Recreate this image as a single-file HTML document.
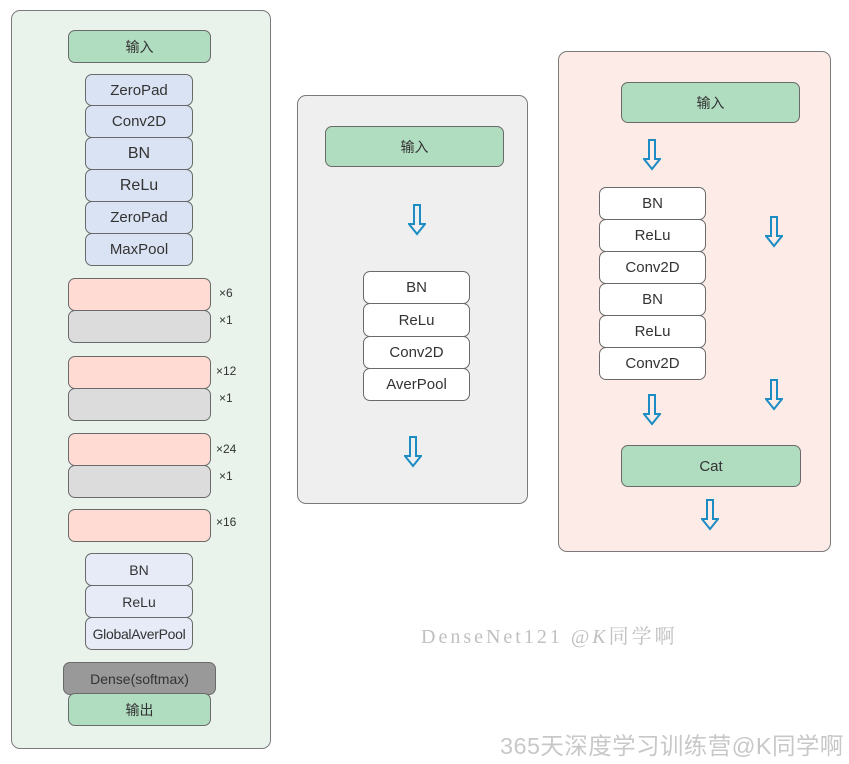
<!DOCTYPE html>
<html><head><meta charset="utf-8"><style>
body{margin:0;width:849px;height:764px;background:#fff;position:relative;overflow:hidden;font-family:"Liberation Sans","Noto Sans CJK SC",sans-serif;color:#333}
.p{position:absolute;border:1.5px solid #7a7a7a;border-radius:9px;box-sizing:border-box}
.b{position:absolute;box-sizing:border-box;border:1.5px solid #6a6a6a;border-radius:7px;display:flex;align-items:center;justify-content:center;font-size:15px;color:#333}
.g{background:#b0dcc0}.bl{background:#dae3f3}.bl2{background:#e6ebf7}.pk{background:#ffdbd3}.gr{background:#dcdcdc}.w{background:#fff}
.t{position:absolute;font-size:12px;color:#333}
svg.a{position:absolute;width:18px;height:32px}
</style></head><body>
<div class="p" style="left:11px;top:10px;width:260px;height:739px;background:#e9f3ec"></div>
<div class="b g" style="left:68px;top:30px;width:143px;height:33px;font-size:14px">输入</div>
<div class="b bl" style="left:85px;top:74px;width:108px;height:32px">ZeroPad</div>
<div class="b bl" style="left:85px;top:105px;width:108px;height:33px">Conv2D</div>
<div class="b bl" style="left:85px;top:137px;width:108px;height:33px;font-size:16px">BN</div>
<div class="b bl" style="left:85px;top:169px;width:108px;height:33px;font-size:16px">ReLu</div>
<div class="b bl" style="left:85px;top:201px;width:108px;height:33px">ZeroPad</div>
<div class="b bl" style="left:85px;top:233px;width:108px;height:33px">MaxPool</div>
<div class="b pk" style="left:68px;top:278px;width:143px;height:33px"></div>
<div class="b gr" style="left:68px;top:310px;width:143px;height:33px"></div>
<div class="t" style="left:219px;top:286px">×6</div>
<div class="t" style="left:219px;top:313px">×1</div>
<div class="b pk" style="left:68px;top:356px;width:143px;height:33px"></div>
<div class="b gr" style="left:68px;top:388px;width:143px;height:33px"></div>
<div class="t" style="left:216px;top:364px">×12</div>
<div class="t" style="left:219px;top:391px">×1</div>
<div class="b pk" style="left:68px;top:433px;width:143px;height:33px"></div>
<div class="b gr" style="left:68px;top:465px;width:143px;height:33px"></div>
<div class="t" style="left:216px;top:442px">×24</div>
<div class="t" style="left:219px;top:469px">×1</div>
<div class="b pk" style="left:68px;top:509px;width:143px;height:33px"></div>
<div class="t" style="left:216px;top:515px">×16</div>
<div class="b bl2" style="left:85px;top:553px;width:108px;height:33px;font-size:14px">BN</div>
<div class="b bl2" style="left:85px;top:585px;width:108px;height:33px;font-size:14px">ReLu</div>
<div class="b bl2" style="left:85px;top:617px;width:108px;height:33px;font-size:14px;letter-spacing:-0.3px">GlobalAverPool</div>
<div class="b" style="left:63px;top:662px;width:153px;height:33px;background:#999;font-size:14px">Dense(softmax)</div>
<div class="b g" style="left:68px;top:693px;width:143px;height:33px;font-size:14px">输出</div>

<div class="p" style="left:297px;top:95px;width:231px;height:409px;background:#efefef"></div>
<div class="b g" style="left:325px;top:126px;width:179px;height:41px;font-size:14px">输入</div>
<div class="b w" style="left:363px;top:271px;width:107px;height:33px">BN</div>
<div class="b w" style="left:363px;top:303px;width:107px;height:34px">ReLu</div>
<div class="b w" style="left:363px;top:336px;width:107px;height:33px">Conv2D</div>
<div class="b w" style="left:363px;top:368px;width:107px;height:33px">AverPool</div>

<div class="p" style="left:558px;top:51px;width:273px;height:501px;background:#fdebe8"></div>
<div class="b g" style="left:621px;top:82px;width:179px;height:41px;font-size:14px">输入</div>
<div class="b w" style="left:599px;top:187px;width:107px;height:33px">BN</div>
<div class="b w" style="left:599px;top:219px;width:107px;height:33px">ReLu</div>
<div class="b w" style="left:599px;top:251px;width:107px;height:33px">Conv2D</div>
<div class="b w" style="left:599px;top:283px;width:107px;height:33px">BN</div>
<div class="b w" style="left:599px;top:315px;width:107px;height:33px">ReLu</div>
<div class="b w" style="left:599px;top:347px;width:107px;height:33px">Conv2D</div>
<div class="b g" style="left:621px;top:445px;width:180px;height:42px;font-size:15px">Cat</div>

<svg style="display:none"><defs><polygon id="ar" points="6,1 12,1 12,20 17,20 9,30 1,20 6,20" fill="none" stroke="#1c8cc2" stroke-width="2" stroke-linejoin="miter"/></defs></svg>
<svg class="a" style="left:408px;top:204px"><use href="#ar"/></svg>
<svg class="a" style="left:404px;top:436px"><use href="#ar"/></svg>
<svg class="a" style="left:643px;top:139px"><use href="#ar"/></svg>
<svg class="a" style="left:765px;top:216px"><use href="#ar"/></svg>
<svg class="a" style="left:643px;top:394px"><use href="#ar"/></svg>
<svg class="a" style="left:765px;top:379px"><use href="#ar"/></svg>
<svg class="a" style="left:701px;top:499px"><use href="#ar"/></svg>

<div style="position:absolute;left:421px;top:620px;font-family:'Liberation Serif','Noto Serif CJK SC',serif;font-size:20px;color:#c0c0c0;letter-spacing:3px;white-space:nowrap">DenseNet121 @<i>K</i>同学啊</div>
<div style="position:absolute;left:500px;top:727px;font-size:23.5px;letter-spacing:0.4px;color:#c8c8c8;white-space:nowrap;font-family:'Liberation Sans','Noto Sans CJK SC',sans-serif">365天深度学习训练营@K同学啊</div>
</body></html>
